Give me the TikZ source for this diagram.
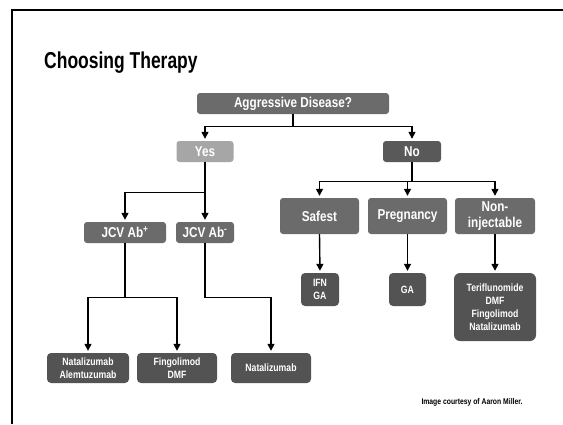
\documentclass[tikz,border=0pt]{standalone}
\usepackage{fontspec}
\setmainfont{Liberation Sans}
\newfontfamily\nar[FakeStretch=0.82]{Liberation Sans}
\newfontfamily\narT[FakeStretch=0.76]{Liberation Sans}
\usetikzlibrary{arrows.meta}
\definecolor{boxgray}{HTML}{6B6B6B}
\definecolor{leafgray}{HTML}{535353}
\definecolor{nogray}{HTML}{595959}
\definecolor{yesgray}{HTML}{A6A6A6}
\tikzset{
  box/.style={fill=boxgray, rounded corners=3pt, text=white, inner sep=0pt,
    align=center, font=\nar\bfseries\fontsize{14.3}{15.5}\selectfont},
  leaf/.style={fill=leafgray, rounded corners=4pt, text=white, inner sep=0pt,
    align=center, font=\nar\bfseries\fontsize{10.6}{13}\selectfont},
  arr/.style={line width=1.4pt, -{Triangle[width=7pt,length=7pt]}, shorten >=2pt},
  ln/.style={line width=1.4pt}
}
\begin{document}
\begin{tikzpicture}[x=1pt,y=-1pt]
\useasboundingbox (0,0) rectangle (563,424);
\fill[white] (0,0) rectangle (563,424);
\draw[line width=2pt] (12,424) -- (12,10) -- (563,10);
\node[anchor=base west, inner sep=0pt, font=\narT\bfseries\fontsize{23}{26}\selectfont] (title) at (44,68) {Choosing Therapy};

\node[box, minimum width=192pt, minimum height=21pt] (agg) at (293,103.5) {Aggressive Disease?};
\node[box, fill=yesgray, minimum width=57pt, minimum height=21pt] (yes) at (205,151.5) {Yes};
\node[box, fill=nogray, minimum width=58pt, minimum height=21pt] (no) at (412,151.5) {No};

\node[box, minimum width=82pt, minimum height=21pt] (jp) at (125,232.5) {JCV Ab\textsuperscript{+}};
\node[box, minimum width=58pt, minimum height=21pt] (jm) at (205,232.5) {JCV Ab\textsuperscript{-}};

\node[leaf, minimum width=82pt, minimum height=30pt] (nat1) at (88,368) {Natalizumab\\Alemtuzumab};
\node[leaf, minimum width=80pt, minimum height=30pt] (fing) at (177,368) {Fingolimod\\DMF};
\node[leaf, minimum width=80pt, minimum height=30pt] (nat2) at (271,368) {Natalizumab};

\node[box, minimum width=79pt, minimum height=36pt] (saf) at (319.5,216) {Safest};
\node[box, minimum width=79pt, minimum height=36pt] (preg) at (407.5,216) {Pregnancy};
\node[box, minimum width=80pt, minimum height=36pt] (inj) at (495,216) {Non-\\injectable};

\node[leaf, minimum width=38pt, minimum height=33pt] (ifn) at (320,289.5) {IFN\\GA};
\node[leaf, minimum width=37pt, minimum height=33pt] (ga) at (407.5,289.5) {GA};
\node[leaf, minimum width=82pt, minimum height=68pt, rounded corners=6pt] (ter) at (495,307) {Teriflunomide\\DMF\\Fingolimod\\Natalizumab};

\node[font=\nar\bfseries\fontsize{8.3}{10}\selectfont, inner sep=0pt] (credit) at (472,402) {Image courtesy of Aaron Miller.};

% connectors
\draw[arr] (agg.south) -- ++(0,12) -| (yes.north);
\draw[arr] (agg.south) -- ++(0,12) -| (no.north);

\draw[arr] (yes.south) -- ++(0,30) -| (jp.north);
\draw[arr] (yes.south) -- (jm.north);

\draw[arr] (jp.south) -- ++(0,54) -| (nat1.north);
\draw[arr] (jp.south) -- ++(0,54) -| (fing.north);
\draw[arr] (jm.south) -- ++(0,54) -| (nat2.north);

\draw[arr] (no.south) -- ++(0,19) -| (saf.north);
\draw[arr] (no.south) -- ++(0,19) -| (preg.north);
\draw[arr] (no.south) -- ++(0,19) -| (inj.north);

\draw[arr] (saf.south) -- (ifn.north);
\draw[arr] (preg.south) -- (ga.north);
\draw[arr] (inj.south) -- (ter.north);
\end{tikzpicture}
\end{document}
